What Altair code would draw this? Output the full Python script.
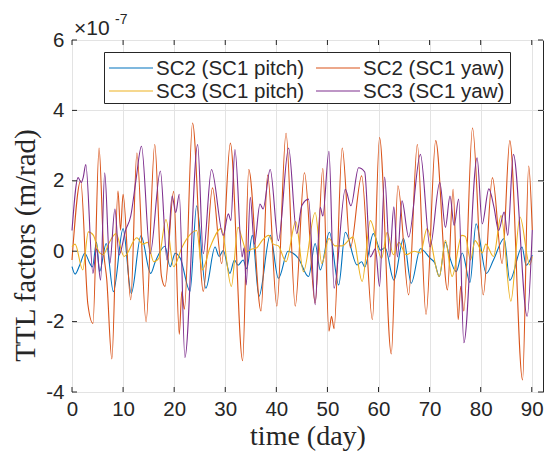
import altair as alt
import pandas as pd

# all values in units of 1e-7 m/rad
sc2_pitch_day = [0, 0.6, 1.5, 2.5, 3.5, 4.0, 4.8, 5.4, 6.7, 8.1, 10.0, 11.6, 13.5, 15.4, 16.3, 18.2, 19.2, 20.2, 21.2,
                 23.1, 24.4, 26.2, 28.0, 28.8, 29.6, 30.9, 31.8, 32.5, 33.5, 34.2, 35.3, 36.6, 38.8, 40.4, 42.3, 43.2,
                 44.3, 46.3, 47.6, 48.6, 50.4, 52.2, 53.5, 55.8, 56.7, 57.3, 59.0, 60.4, 61.3, 63.0, 64.9, 66.4, 68.2,
                 70.1, 71.0, 71.9, 73.1, 73.8, 75.2, 76.4, 77.9, 79.1, 81.1, 82.5, 84.6, 85.7, 88.1, 88.9, 90.1]
sc2_pitch_val = [-0.44, -0.65, -0.4, -0.06, -0.35, -0.45, 0.26, -0.58, 0.22, -1.15, 0.64, -1.2, 0.44, -0.63, -0.3, 0.14,
                 -0.44, -0.06, -0.2, -1.14, 1.29, -1.05, 0.12, -0.15, 0.02, -0.63, -0.25, -0.4, -0.25, -0.5, 0.45, -1.28,
                 0.45, -0.77, 0.0, -0.05, -0.2, -0.72, 0.22, -0.53, 0.54, -0.96, 0.54, -0.39, -0.3, -0.45, 0.5, 0.03,
                 0.1, -0.82, 0.36, -0.91, 0.07, -0.2, -0.33, -0.72, 0.26, -0.1, -0.58, -0.05, -0.89, 0.78, -0.63, -0.25,
                 0.36, -0.83, 0.12, -0.4, -0.11]

sc2_yaw_day = [0, 1.7, 3.1, 4.1, 5.3, 6.2, 6.8, 7.8, 9.0, 9.5, 10.0, 11.5, 12.7, 14.5, 16.2, 17.5, 18.2, 19.9, 21.0,
               21.5, 22.0, 23.6, 25.7, 27.5, 29.3, 31.0, 33.4, 34.6, 37.0, 38.3, 40.1, 41.9, 43.7, 45.5, 47.6, 49.1,
               50.3, 50.8, 51.3, 52.9, 54.5, 56.7, 58.8, 60.2, 62.5, 63.8, 65.9, 67.6, 69.3, 71.2, 73.5, 74.6, 75.6,
               76.1, 76.7, 78.4, 80.5, 82.3, 84.2, 85.7, 88.2, 89.4, 90.1]
sc2_yaw_val = [-0.25, 2.0, -1.5, -2.05, 2.93, 0.0, -0.8, -3.06, 1.71, 0.6, 1.62, -1.38, 2.79, -2.0, 3.03, -0.7, -1.0,
               1.7, -2.36, -1.15, -1.65, 3.64, -1.14, 1.8, -0.35, 3.07, -3.11, 2.32, -1.7, 2.16, -1.56, 3.35, -1.56,
               2.23, -1.47, 2.35, -2.27, -1.85, -2.2, 2.93, 0.1, 2.14, -1.94, 3.23, -2.92, 1.86, -1.24, 3.03, -1.8,
               3.14, -1.1, 1.76, -1.94, -1.0, -1.7, 3.5, -1.24, 2.09, -0.35, 3.14, -3.66, 2.42, 0.6]

sc3_pitch_day = [0, 0.6, 2.1, 3.2, 4.2, 5.2, 6.1, 7.3, 8.6, 10.2, 12.7, 13.8, 14.8, 16.0, 17.0, 18.4, 19.9, 21.5, 22.7,
                 24.4, 25.5, 27.0, 29.2, 31.2, 32.5, 33.4, 34.2, 35.0, 36.2, 37.2, 38.5, 39.4, 40.4, 41.9, 43.8, 45.3,
                 47.6, 48.9, 50.3, 51.5, 52.8, 55.0, 56.8, 58.4, 60.6, 61.7, 62.9, 64.0, 65.4, 67.0, 68.2, 69.5, 71.9,
                 73.1, 74.4, 76.3, 77.0, 78.0, 78.9, 79.6, 80.3, 81.0, 82.5, 84.0, 85.9, 87.7, 89.6, 90.1]
sc3_pitch_val = [0.13, 0.2, -0.53, 0.55, 0.45, 0.0, -0.1, 0.25, 0.5, -0.15, 0.38, 0.2, 0.25, -0.3, -0.2, 0.9, -0.44,
                 0.1, 0.4, 0.59, -0.53, 0.1, 0.64, -1.0, 0.68, 0.3, -0.02, 0.05, 0.1, 0.3, 0.45, 0.2, 0.15, -0.3, 0.84,
                 -0.58, 1.1, -0.35, 0.36, 0.15, 0.15, 0.4, -0.86, 0.87, -0.2, 0.54, -0.1, 0.25, -0.1, 0.0, -0.05, 0.64,
                 -0.72, 0.31, -0.72, 0.45, 0.42, -0.25, 0.3, 0.15, -0.05, 0.2, -0.15, 1.01, -1.42, 0.97, -0.39, -0.15]

sc3_yaw_day = [0, 1.2, 1.8, 2.2, 2.7, 4.1, 4.8, 5.6, 6.4, 7.4, 8.4, 9.2, 10.5, 11.5, 12.5, 13.6, 15.3, 17.3, 18.6,
               19.6, 20.3, 21.0, 22.1, 24.6, 25.7, 27.3, 29.6, 30.6, 31.1, 31.9, 33.3, 33.7, 34.1, 34.9, 35.7, 36.8,
               37.4, 38.8, 40.4, 42.4, 44.0, 45.0, 46.3, 47.6, 48.6, 49.1, 50.3, 51.3, 53.5, 54.6, 56.1, 57.3, 58.4,
               59.4, 60.2, 61.2, 62.2, 63.0, 63.7, 64.6, 65.9, 68.2, 70.1, 72.0, 73.1, 74.0, 74.8, 75.7, 76.7, 79.3,
               80.3, 81.6, 82.6, 83.5, 84.6, 85.3, 86.4, 89.1, 90.1]
sc3_yaw_val = [0.59, 2.09, 1.95, 2.1, 2.46, -0.63, 0.07, -0.82, 2.23, -0.35, 1.2, -0.11, 0.6, 1.0, 2.0, 2.98, -0.07,
               2.28, -0.25, 1.57, 1.1, 1.62, -3.02, 3.03, -0.07, 2.32, 0.45, 1.06, 0.87, 2.89, -0.16, 0.1, -0.96, 1.53,
               0.2, 1.34, 1.2, 2.32, 0.3, 2.93, 0.5, 1.3, 1.48, -1.52, 1.25, 1.0, 2.84, -1.05, 1.76, 1.29, 2.37, 2.25,
               -0.16, 0.07, -1.0, 2.11, -0.16, 1.26, -0.16, 1.43, 0.4, 2.75, 0.12, 1.95, 0.68, 1.57, 0.73, 1.48, -2.6,
               2.65, 0.78, 1.77, 1.25, 0.59, 1.11, 0.45, 2.75, -1.85, 0.6]

series_names = ["SC2 (SC1 pitch)", "SC2 (SC1 yaw)", "SC3 (SC1 pitch)", "SC3 (SC1 yaw)"]
series_colors = ["#0072BD", "#D95319", "#EDB120", "#7E2F8E"]
series_days = [sc2_pitch_day, sc2_yaw_day, sc3_pitch_day, sc3_yaw_day]
series_vals = [sc2_pitch_val, sc2_yaw_val, sc3_pitch_val, sc3_yaw_val]
x_ticks = [0, 10, 20, 30, 40, 50, 60, 70, 80, 90]
y_ticks = [-4, -2, 0, 2, 4, 6]

W, H = 471, 352
DARK = "#262626"
GRID = "#e3e3e3"
SANS = "Liberation Sans"
SERIF = "Liberation Serif"
FS = 20.5

xscale = alt.Scale(domain=[0, 92.2], nice=False, zero=False)
yscale = alt.Scale(domain=[-4, 6], nice=False, zero=False)

x_axis = alt.Axis(values=x_ticks, title="time (day)", titleFont=SERIF, titleFontSize=28,
                  titleFontWeight="normal", titleColor=DARK, titlePadding=3,
                  labelFont=SANS, labelFontSize=FS, labelColor=DARK, labelPadding=7,
                  tickSize=0, domain=False, grid=True, gridColor=GRID, gridWidth=1,
                  labelFlush=False)
y_axis = alt.Axis(values=y_ticks, title="TTL factors (m/rad)", titleFont=SERIF, titleFontSize=29,
                  titleFontWeight="normal", titleColor=DARK, titlePadding=5, titleY=205,
                  labelFont=SANS, labelFontSize=FS, labelColor=DARK, labelPadding=8,
                  tickSize=0, domain=False, grid=True, gridColor=GRID, gridWidth=1,
                  labelFlush=False,
                  labelExpr="datum.value < 0 ? '-' + abs(datum.value) : '' + datum.value")

X = lambda: alt.X("day:Q", scale=xscale, axis=x_axis)
Y = lambda: alt.Y("val:Q", scale=yscale, axis=y_axis)

layers = []
for name, color, d, v in zip(series_names, series_colors, series_days, series_vals):
    sdf = pd.DataFrame({"day": d, "val": v, "series": name})
    layers.append(alt.Chart(sdf).mark_line(strokeWidth=1.1, interpolate="monotone", color=color)
                  .encode(x=X(), y=Y()))

xt = pd.DataFrame({"day": x_ticks})
yt = pd.DataFrame({"val": y_ticks})
layers.append(alt.Chart(xt).mark_rule(color=DARK, strokeWidth=1).encode(
    x=X(), y=alt.value(H), y2=alt.value(H - 5)))
layers.append(alt.Chart(xt).mark_rule(color=DARK, strokeWidth=1).encode(
    x=X(), y=alt.value(0), y2=alt.value(5)))
layers.append(alt.Chart(yt).mark_rule(color=DARK, strokeWidth=1).encode(
    y=Y(), x=alt.value(0), x2=alt.value(5)))
layers.append(alt.Chart(yt).mark_rule(color=DARK, strokeWidth=1).encode(
    y=Y(), x=alt.value(W), x2=alt.value(W - 5)))

# legend (drawn by hand: 2 columns x 2 rows, MATLAB style)
one = pd.DataFrame({"t": [""]})
layers.append(alt.Chart(one).mark_rect(fill="white", stroke=DARK, strokeWidth=1).encode(
    x=alt.value(32.5), x2=alt.value(438.5), y=alt.value(12.5), y2=alt.value(63.5)))
leg_cols = [37, 244]
leg_rows = [28, 51]
for i, (name, color) in enumerate(zip(series_names, series_colors)):
    cx = leg_cols[i % 2]
    cy = leg_rows[i // 2]
    ldf = pd.DataFrame({"t": [name]})
    layers.append(alt.Chart(ldf).mark_rule(color=color, strokeWidth=1.1).encode(
        x=alt.value(cx), x2=alt.value(cx + 44), y=alt.value(cy)))
    layers.append(alt.Chart(ldf).mark_text(font=SANS, fontSize=FS, color=DARK, align="left",
                                           baseline="middle").encode(
        text="t:N", x=alt.value(cx + 47), y=alt.value(cy + 1)))

exp_df = pd.DataFrame({"base": ["×10"], "exp": ["-7"]})
layers.append(alt.Chart(exp_df).mark_text(font=SANS, fontSize=21, color=DARK, align="left",
                                          baseline="alphabetic").encode(
    text="base:N", x=alt.value(2), y=alt.value(-5)))
layers.append(alt.Chart(exp_df).mark_text(font=SANS, fontSize=14, color=DARK, align="left",
                                          baseline="alphabetic").encode(
    text="exp:N", x=alt.value(43), y=alt.value(-16)))

chart = alt.layer(*layers).properties(
    width=W, height=H,
    autosize=alt.AutoSizeParams(type="none"),
    padding={"left": 72, "top": 40, "right": 2, "bottom": 66},
    background="white",
).configure_view(stroke=DARK, strokeWidth=1)

chart.save("out.html", embed_options={"renderer": "svg", "actions": False})
